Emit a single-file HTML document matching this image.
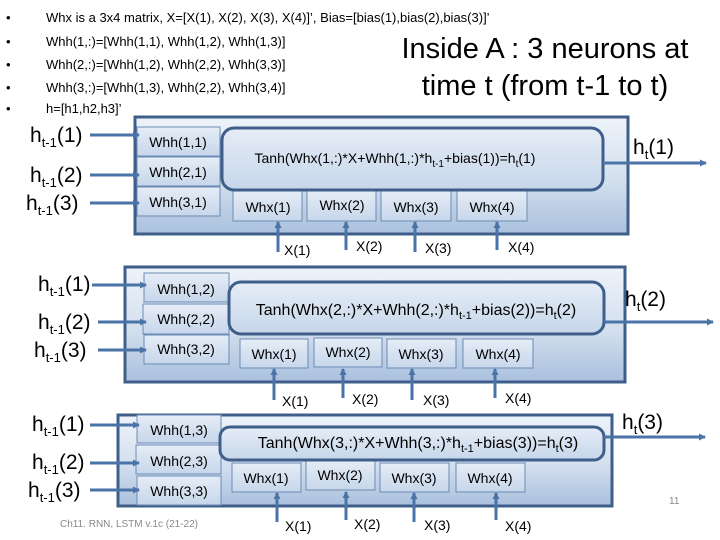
<!DOCTYPE html>
<html><head><meta charset="utf-8"><style>
html,body{margin:0;padding:0;background:#fff;}
svg{display:block;font-family:"Liberation Sans",sans-serif;}
</style></head><body>
<svg width="720" height="540" viewBox="0 0 720 540" xmlns="http://www.w3.org/2000/svg">
<defs>
<linearGradient id="g" x1="0" y1="0" x2="0" y2="1">
<stop offset="0" stop-color="#eef3fa"/><stop offset="0.55" stop-color="#d3dfee"/><stop offset="1" stop-color="#a9c0dd"/>
</linearGradient>
<linearGradient id="g2" x1="0" y1="0" x2="0" y2="1">
<stop offset="0" stop-color="#e6edf7"/><stop offset="1" stop-color="#c6d6ea"/>
</linearGradient>
<marker id="a" markerWidth="7" markerHeight="7" refX="6" refY="3.5" orient="auto" markerUnits="userSpaceOnUse"><path d="M0,0 L7,3.5 L0,7 z" fill="#4a74a8"/></marker>
</defs>
<g font-size="13" fill="#000">
<text x="6" y="22">•</text><text x="46" y="22">Whx is a 3x4 matrix, X=[X(1), X(2), X(3), X(4)]’, Bias=[bias(1),bias(2),bias(3)]’</text>
<text x="6" y="46">•</text><text x="46" y="46">Whh(1,:)=[Whh(1,1), Whh(1,2), Whh(1,3)]</text>
<text x="6" y="69">•</text><text x="46" y="69">Whh(2,:)=[Whh(1,2), Whh(2,2), Whh(3,3)]</text>
<text x="6" y="92">•</text><text x="46" y="92">Whh(3,:)=[Whh(1,3), Whh(2,2), Whh(3,4)]</text>
<text x="6" y="113">•</text><text x="46" y="113">h=[h1,h2,h3]’</text>
</g>
<text x="545" y="58" font-size="29" text-anchor="middle">Inside A : 3 neurons at</text>
<text x="545" y="95" font-size="29" text-anchor="middle">time t (from t-1 to t)</text>

<!-- block 1 -->
<rect x="135" y="117" width="493" height="117" fill="url(#g)" stroke="#3f5f8a" stroke-width="3"/>
<g fill="url(#g2)" stroke="#6b8bb5" stroke-width="1">
<rect x="137" y="127" width="83" height="29"/><rect x="137" y="157" width="83" height="29"/><rect x="137" y="187" width="83" height="29"/>
<rect x="233" y="191" width="69" height="30"/><rect x="307" y="191" width="69" height="30"/><rect x="381" y="191" width="70" height="30"/><rect x="457" y="191" width="70" height="30"/>
</g>
<rect x="222" y="128" width="381" height="62" rx="12" fill="url(#g2)" stroke="#3f5f8a" stroke-width="3"/>
<g font-size="14" text-anchor="middle">
<text x="178" y="147">Whh(1,1)</text><text x="178" y="177">Whh(2,1)</text><text x="178" y="207">Whh(3,1)</text>
<text x="268" y="212">Whx(1)</text><text x="342" y="210">Whx(2)</text><text x="416" y="212">Whx(3)</text><text x="492" y="212">Whx(4)</text>
<text x="395" y="163">Tanh(Whx(1,:)*X+Whh(1,:)*h<tspan font-size="10" dy="4">t-1</tspan><tspan dy="-4">+bias(1))=h</tspan><tspan font-size="10" dy="4">t</tspan><tspan dy="-4">(1)</tspan></text>
</g>

<!-- block 2 -->
<rect x="125" y="267" width="500" height="115" fill="url(#g)" stroke="#3f5f8a" stroke-width="3"/>
<g fill="url(#g2)" stroke="#6b8bb5" stroke-width="1">
<rect x="144" y="273" width="85" height="29"/><rect x="143" y="304" width="86" height="30"/><rect x="144" y="335" width="85" height="29"/>
<rect x="240" y="339" width="68" height="29"/><rect x="314" y="338" width="68" height="29"/><rect x="387" y="339" width="69" height="29"/><rect x="463" y="339" width="70" height="29"/>
</g>
<rect x="229" y="282" width="375" height="52" rx="12" fill="url(#g2)" stroke="#3f5f8a" stroke-width="3"/>
<g font-size="14" text-anchor="middle">
<text x="186" y="294">Whh(1,2)</text><text x="186" y="324">Whh(2,2)</text><text x="186" y="354">Whh(3,2)</text>
<text x="274" y="359">Whx(1)</text><text x="348" y="357">Whx(2)</text><text x="421" y="359">Whx(3)</text><text x="498" y="359">Whx(4)</text>
</g>
<text x="416" y="315" font-size="16" text-anchor="middle">Tanh(Whx(2,:)*X+Whh(2,:)*h<tspan font-size="11" dy="4">t-1</tspan><tspan dy="-4">+bias(2))=h</tspan><tspan font-size="11" dy="4">t</tspan><tspan dy="-4">(2)</tspan></text>

<!-- block 3 -->
<rect x="118" y="415" width="494" height="91" fill="url(#g)" stroke="#3f5f8a" stroke-width="3"/>
<g fill="url(#g2)" stroke="#6b8bb5" stroke-width="1">
<rect x="137" y="415" width="84" height="28"/><rect x="136" y="445" width="85" height="29"/><rect x="137" y="476" width="84" height="29"/>
<rect x="232" y="463" width="69" height="29"/><rect x="306" y="461" width="69" height="29"/><rect x="380" y="463" width="69" height="29"/><rect x="456" y="463" width="69" height="29"/>
</g>
<rect x="220" y="427" width="384" height="33" rx="10" fill="url(#g2)" stroke="#3f5f8a" stroke-width="3"/>
<g font-size="14" text-anchor="middle">
<text x="179" y="435">Whh(1,3)</text><text x="179" y="466">Whh(2,3)</text><text x="179" y="496">Whh(3,3)</text>
<text x="266" y="483">Whx(1)</text><text x="340" y="480">Whx(2)</text><text x="414" y="483">Whx(3)</text><text x="490" y="483">Whx(4)</text>
</g>
<text x="418" y="448" font-size="16" text-anchor="middle">Tanh(Whx(3,:)*X+Whh(3,:)*h<tspan font-size="11" dy="4">t-1</tspan><tspan dy="-4">+bias(3))=h</tspan><tspan font-size="11" dy="4">t</tspan><tspan dy="-4">(3)</tspan></text>

<g stroke="#4a74a8" stroke-width="3" fill="none" marker-end="url(#a)">
<line x1="90" y1="135" x2="139" y2="135"/><line x1="90" y1="175" x2="139" y2="175"/><line x1="90" y1="203" x2="139" y2="203"/>
<line x1="92" y1="285" x2="146" y2="285"/><line x1="98" y1="322" x2="146" y2="322"/><line x1="98" y1="350" x2="146" y2="350"/>
<line x1="90" y1="425" x2="139" y2="425"/><line x1="90" y1="463" x2="139" y2="463"/><line x1="90" y1="490" x2="139" y2="490"/>
<line x1="603" y1="163" x2="706" y2="163"/><line x1="604" y1="322" x2="713" y2="322"/><line x1="604" y1="437" x2="705" y2="437"/>
<line x1="278" y1="252" x2="278" y2="222"/><line x1="346" y1="250" x2="346" y2="222"/><line x1="415" y1="252" x2="415" y2="222"/><line x1="497" y1="250" x2="497" y2="222"/>
<line x1="274" y1="400" x2="274" y2="369"/><line x1="343" y1="398" x2="343" y2="369"/><line x1="412" y1="400" x2="412" y2="369"/><line x1="495" y1="398" x2="495" y2="369"/>
<line x1="277" y1="522" x2="277" y2="493"/><line x1="346" y1="520" x2="346" y2="492"/><line x1="414" y1="522" x2="414" y2="493"/><line x1="496" y1="520" x2="496" y2="493"/>
</g>

<!-- X labels -->
<g font-size="14">
<text x="284" y="255">X(1)</text><text x="356" y="251">X(2)</text><text x="425" y="253">X(3)</text><text x="508" y="252">X(4)</text>
<text x="282" y="406">X(1)</text><text x="352" y="404">X(2)</text><text x="423" y="405">X(3)</text><text x="505" y="403">X(4)</text>
<text x="285" y="531">X(1)</text><text x="354" y="529">X(2)</text><text x="424" y="530">X(3)</text><text x="505" y="531">X(4)</text>
</g>

<!-- h labels -->
<g font-size="21">
<text x="30" y="142">h<tspan font-size="13" dy="5">t-1</tspan><tspan dy="-5">(1)</tspan></text>
<text x="30" y="182">h<tspan font-size="13" dy="5">t-1</tspan><tspan dy="-5">(2)</tspan></text>
<text x="26" y="210">h<tspan font-size="13" dy="5">t-1</tspan><tspan dy="-5">(3)</tspan></text>
<text x="38" y="291">h<tspan font-size="13" dy="5">t-1</tspan><tspan dy="-5">(1)</tspan></text>
<text x="38" y="329">h<tspan font-size="13" dy="5">t-1</tspan><tspan dy="-5">(2)</tspan></text>
<text x="34" y="357">h<tspan font-size="13" dy="5">t-1</tspan><tspan dy="-5">(3)</tspan></text>
<text x="32" y="431">h<tspan font-size="13" dy="5">t-1</tspan><tspan dy="-5">(1)</tspan></text>
<text x="32" y="469">h<tspan font-size="13" dy="5">t-1</tspan><tspan dy="-5">(2)</tspan></text>
<text x="28" y="497">h<tspan font-size="13" dy="5">t-1</tspan><tspan dy="-5">(3)</tspan></text>
<text x="633" y="154">h<tspan font-size="13" dy="5">t</tspan><tspan dy="-5">(1)</tspan></text>
<text x="625" y="306">h<tspan font-size="13" dy="5">t</tspan><tspan dy="-5">(2)</tspan></text>
<text x="622" y="429">h<tspan font-size="13" dy="5">t</tspan><tspan dy="-5">(3)</tspan></text>
</g>
<text x="60" y="527" font-size="10" fill="#888">Ch11. RNN, LSTM  v.1c (21-22)</text>
<text x="669" y="504" font-size="10" fill="#888">11</text>
</svg>
</body></html>
